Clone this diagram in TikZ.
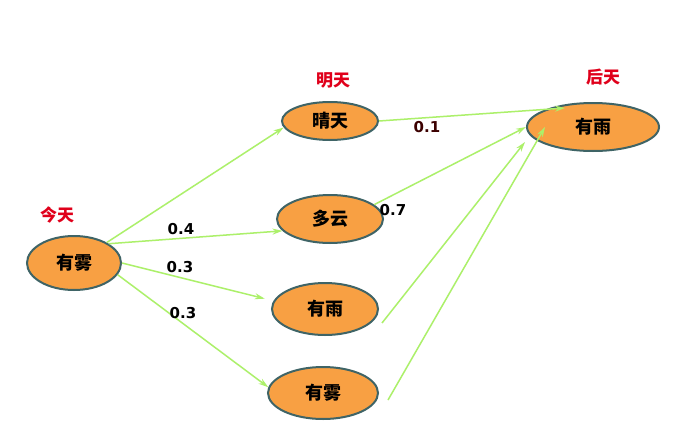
\documentclass[tikz,border=0pt]{standalone}
\usepackage{fontspec}
\newfontfamily\cjk{Noto Sans CJK SC}
\newfontfamily\numfont{DejaVu Sans}
\usetikzlibrary{shapes.geometric,arrows.meta}
\definecolor{fogfill}{HTML}{F8A043}
\definecolor{fogedge}{HTML}{3F6466}
\definecolor{edgegreen}{HTML}{ACF06A}
\definecolor{daycol}{HTML}{E0001B}
\tikzset{
  state/.style={ellipse,draw=fogedge,line width=2pt,fill=fogfill,inner sep=0pt,font=\cjk\bfseries\fontsize{18}{18}\selectfont},
  daylabel/.style={font=\cjk\bfseries\fontsize{17}{17}\selectfont,text=daycol},
  prob/.style={font=\numfont\bfseries\fontsize{15}{15}\selectfont,text=black,inner sep=0pt},
  trans/.style={draw=edgegreen,line width=1.5pt,-{Stealth[length=10pt,width=6pt]}}
}
\begin{document}
\begin{tikzpicture}[x=1pt,y=-1pt]
\useasboundingbox[fill=white] (0,0) rectangle (690,444);
% nodes
\node[state,minimum width=94pt,minimum height=54pt] (l) at (74,263) {有雾};
\node[state,minimum width=96pt,minimum height=38pt] (a) at (330,121) {晴天};
\node[state,minimum width=106pt,minimum height=48pt] (b) at (330,219) {多云};
\node[state,minimum width=106pt,minimum height=52pt] (c) at (325,309) {有雨};
\node[state,minimum width=110pt,minimum height=52pt] (d) at (323,393) {有雾};
\node[state,minimum width=132pt,minimum height=48pt] (r) at (593,127) {有雨};
% day labels
\node[daylabel] (t0) at (57,215) {今天};
\node[daylabel] (t1) at (333,80) {明天};
\node[daylabel] (t2) at (603,77) {后天};
% free ends
\coordinate (cs) at (382,323);
\coordinate (ds) at (388,400);
\coordinate (ce) at (525,142);
\coordinate (de) at (545,127);
\coordinate (ae) at (565,108);
% edges
\draw[trans] (l.32) -- (a.188);
\draw[trans] (l.29) -- (b.194);
\draw[trans,shorten >=9pt] (l.east) -- (c.171);
\draw[trans] (l.-15) -- (d.174);
\draw[trans] (a.east) -- (ae);
\draw[trans] (b.18) -- (r.west);
\draw[trans] (cs) -- (ce);
\draw[trans] (ds) -- (de);
% probabilities
\node[prob] (p1) at (181,229) {0.4};
\node[prob] (p2) at (180,267) {0.3};
\node[prob] (p3) at (183,313) {0.3};
\node[prob,text={rgb,255:red,60;green,0;blue,0}] (p4) at (427,127) {0.1};
\node[prob] (p5) at (393,210) {0.7};
\end{tikzpicture}
\end{document}
